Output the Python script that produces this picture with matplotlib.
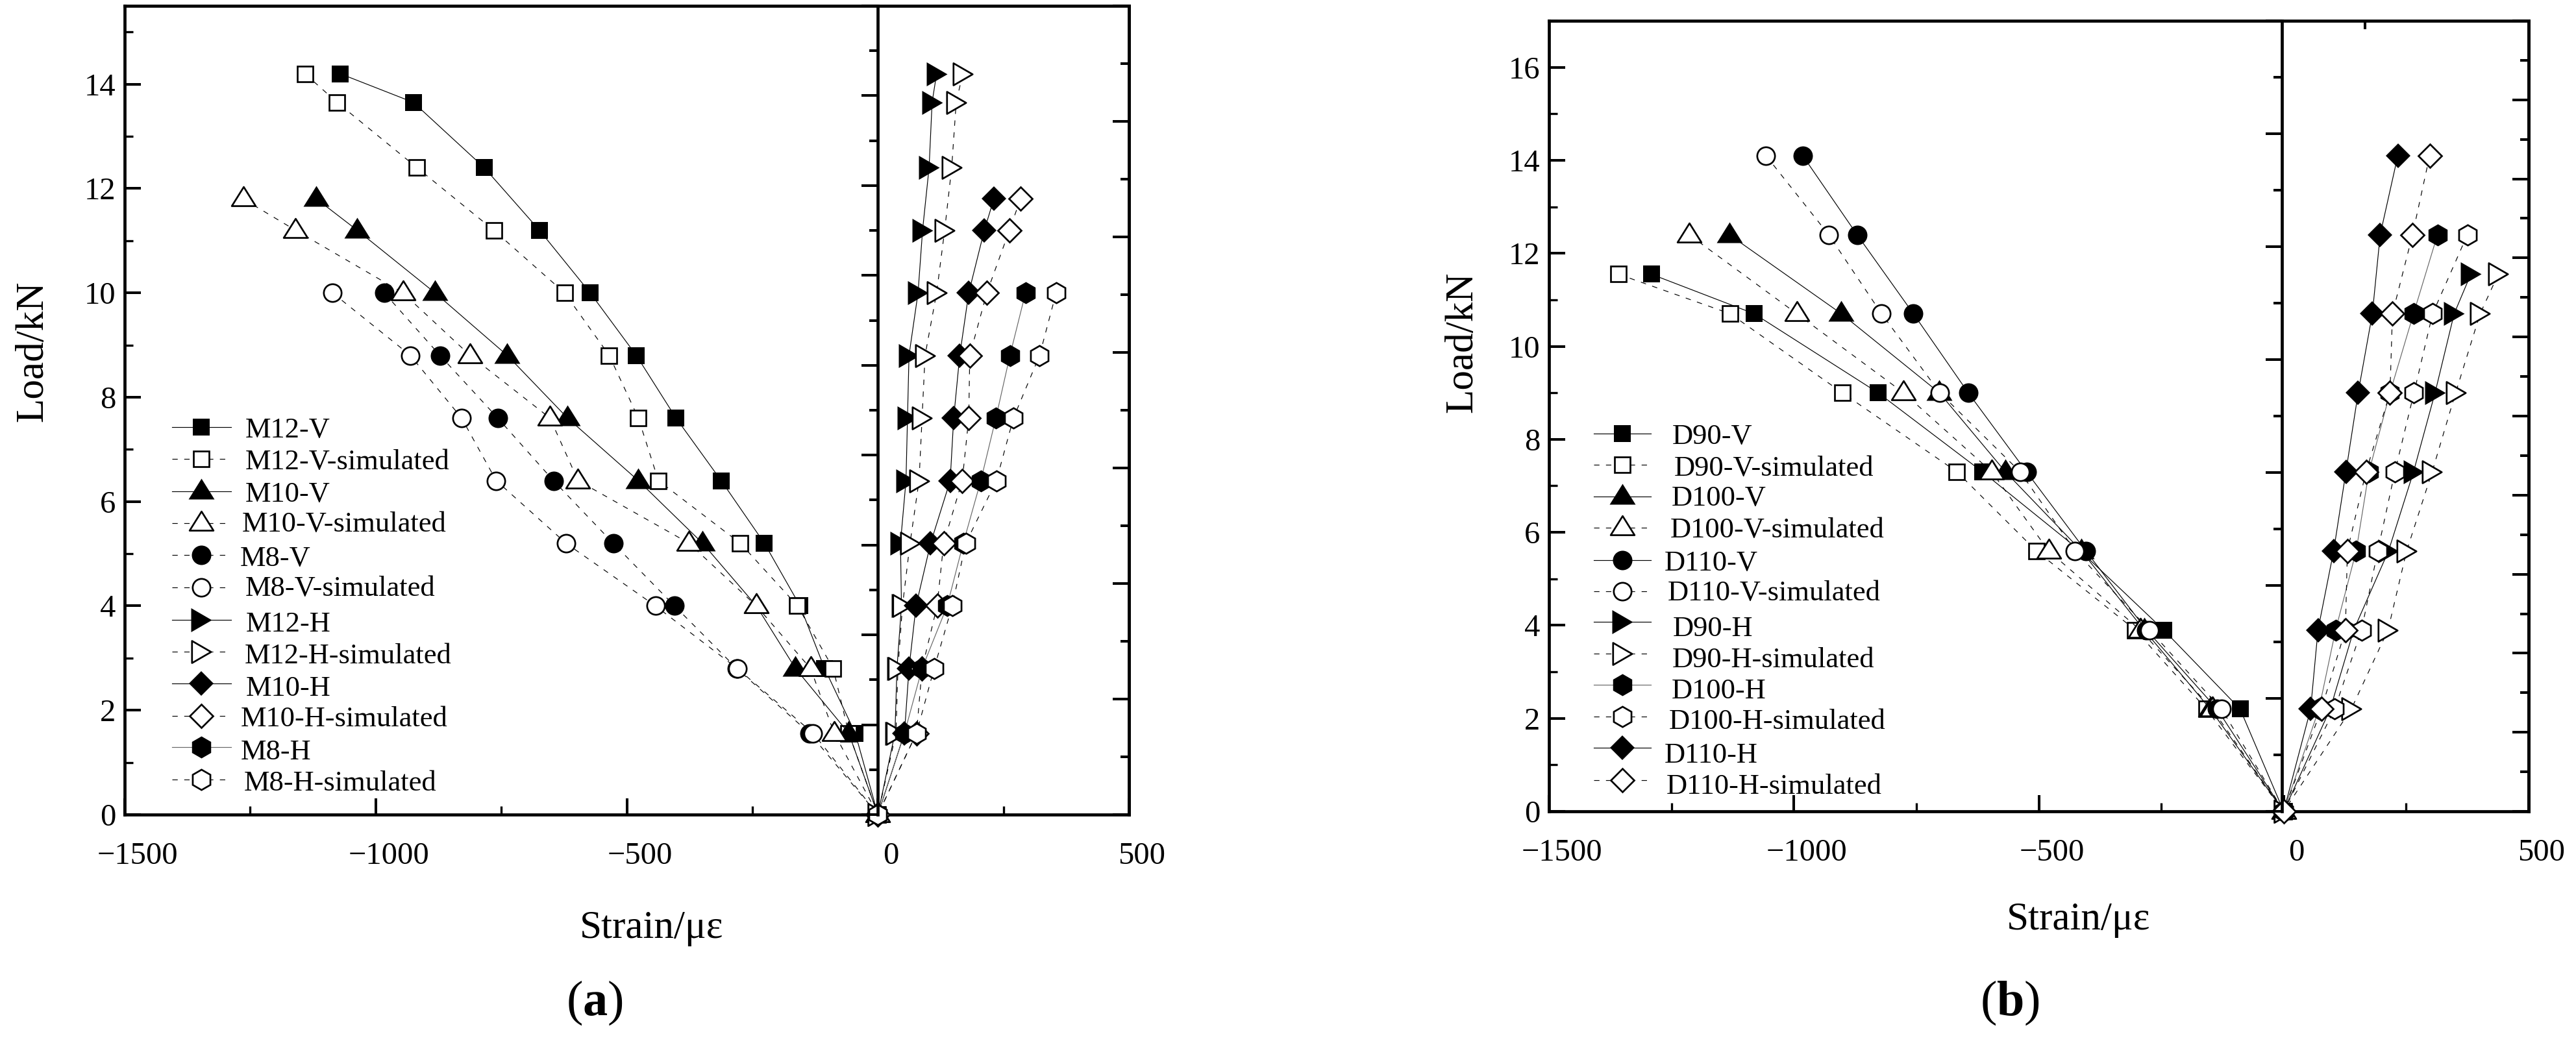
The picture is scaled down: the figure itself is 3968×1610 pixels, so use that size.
import matplotlib
matplotlib.use("Agg")
import matplotlib.pyplot as plt
from matplotlib.lines import Line2D
from matplotlib.path import Path
from matplotlib.ticker import MultipleLocator, NullFormatter
from matplotlib.transforms import ScaledTranslation

plt.rcParams['font.family'] = ['Liberation Serif', 'DejaVu Serif']
plt.rcParams['mathtext.fontset'] = 'custom'
plt.rcParams['mathtext.rm'] = 'Liberation Serif'
plt.rcParams['mathtext.bf'] = 'Liberation Serif:bold'

# ---------------- data: panel (a) ----------------
load_m12 = [14.2, 13.65, 12.4, 11.2, 10, 8.8, 7.6, 6.4, 5.2, 4, 2.8, 1.56, 0]
load_m10 = [11.8, 11.2, 10, 8.8, 7.6, 6.4, 5.2, 4, 2.8, 1.56, 0]
load_m8 = [10, 8.8, 7.6, 6.4, 5.2, 4, 2.8, 1.56, 0]

m12_v = [-1071, -925, -784, -674, -573, -481, -402, -312, -226, -155, -106, -45, 0]
m12_v_sim = [-1141, -1077, -918, -765, -624, -535, -477, -437, -274, -160, -89, -58, 0]
m10_v = [-1118, -1037, -882, -738, -618, -477, -349, -242, -164, -58, 0]
m10_v_sim = [-1264, -1160, -946, -812, -653, -597, -376, -242, -134, -87, 0]
m8_v = [-983, -872, -757, -646, -527, -405, -281, -136, 0]
m8_v_sim = [-1086, -931, -829, -760, -621, -443, -280, -129, 0]
m12_h = [117, 108, 102, 89, 80, 62, 59, 56, 45, 47, 38, 34, 0]
m12_h_sim = [169, 156, 147, 133, 117, 94, 88, 82, 64, 49, 40, 36, 0]
m10_h = [231, 212, 181, 163, 151, 144, 105, 76, 62, 53, 0]
m10_h_sim = [284, 262, 217, 183, 181, 168, 131, 118, 88, 77, 0]
m8_h = [294, 263, 235, 205, 170, 138, 88, 53, 0]
m8_h_sim = [355, 322, 270, 236, 175, 148, 112, 77, 0]

labels_a = ['M12-V', 'M12-V-simulated', 'M10-V', 'M10-V-simulated', 'M8-V', 'M8-V-simulated',
            'M12-H', 'M12-H-simulated', 'M10-H', 'M10-H-simulated', 'M8-H', 'M8-H-simulated']
strain_a = [m12_v, m12_v_sim, m10_v, m10_v_sim, m8_v, m8_v_sim,
            m12_h, m12_h_sim, m10_h, m10_h_sim, m8_h, m8_h_sim]
load_a = [load_m12, load_m12, load_m10, load_m10, load_m8, load_m8,
          load_m12, load_m12, load_m10, load_m10, load_m8, load_m8]

# ---------------- data: panel (b) ----------------
load_d90 = [11.55, 10.7, 9, 7.3, 5.6, 3.9, 2.2, 0]
load_d100 = [12.4, 10.7, 9, 7.3, 5.6, 3.9, 2.2, 0]
load_d110 = [14.1, 12.4, 10.7, 9, 7.3, 5.6, 3.9, 2.2, 0]

d90_v = [-1291, -1081, -828, -615, -415, -245, -89, 0]
d90_v_sim = [-1358, -1130, -901, -667, -505, -303, -158, 0]
d100_v = [-1132, -903, -703, -568, -413, -285, -150, 0]
d100_v_sim = [-1214, -994, -776, -596, -480, -293, -146, 0]
d110_v = [-982, -871, -756, -644, -525, -404, -280, -136, 0]
d110_v_sim = [-1057, -929, -821, -702, -538, -426, -274, -127, 0]
d90_h = [382, 348, 309, 265, 214, 143, 95, 0]
d90_h_sim = [438, 401, 351, 303, 251, 213, 138, 0]
d100_h = [314, 265, 217, 174, 148, 106, 72, 0]
d100_h_sim = [375, 304, 266, 227, 192, 159, 104, 0]
d110_h = [233, 197, 181, 152, 127, 102, 70, 55, 0]
d110_h_sim = [298, 263, 222, 217, 168, 130, 126, 77, 0]

labels_b = ['D90-V', 'D90-V-simulated', 'D100-V', 'D100-V-simulated', 'D110-V', 'D110-V-simulated',
            'D90-H', 'D90-H-simulated', 'D100-H', 'D100-H-simulated', 'D110-H', 'D110-H-simulated']
strain_b = [d90_v, d90_v_sim, d100_v, d100_v_sim, d110_v, d110_v_sim,
            d90_h, d90_h_sim, d100_h, d100_h_sim, d110_h, d110_h_sim]
load_b = [load_d90, load_d90, load_d100, load_d100, load_d110, load_d110,
          load_d90, load_d90, load_d100, load_d100, load_d110, load_d110]

x_ticks = [-1500, -1000, -500, 0, 500]
x_ticklabels = ['\u22121500', '\u22121000', '\u2212500', '0', '500']

# ---------------- layout and style ----------------
W, H = 3968, 1610
PX = 0.72  # points per pixel at dpi 100

UP = Path([(-20, -12), (20, -12), (0, 20), (-20, -12)], closed=True)
RIGHT = Path([(-16, -18.5), (16, 0), (-16, 18.5), (-16, -18.5)], closed=True)


def marker_style(marker, hollow):
    size_px = {'s': 27, '^': 40, 'o': 30, '>': 37, 'D': 27.5, 'h': 34}[marker]
    shape = {'^': UP, '>': RIGHT}.get(marker, marker)
    edge_px = 2.7
    if hollow:
        if marker in '^>':
            return dict(marker=shape, ms=size_px * PX * 0.92, mfc='white',
                        mec='black', mew=edge_px * PX, mew_join=None)
        return dict(marker=shape, ms=(size_px - edge_px) * PX, mfc='white',
                    mec='black', mew=edge_px * PX)
    return dict(marker=shape, ms=size_px * PX, mfc='black', mec='black', mew=0)


def clean(style):
    style = dict(style)
    style.pop('mew_join', None)
    return style


DASH = (7.0, 8.5)
LW = 0.85


def line_style(dashed, gray):
    st = dict(color='#666666' if gray else 'black', lw=LW, dash_capstyle='butt')
    if dashed:
        st.update(ls='--', dashes=DASH)
    return st


def px_axes(l, t, r, b):
    return fig.add_axes([l / W, 1 - b / H, (r - l) / W, (b - t) / H])


def panel(box, ylim, center_top, right_top, center_x, labels, strains, loads, markers,
          dashed_solid, gray, leg_x, leg_hy, leg_tx, leg_ty, leg_line, xlabel_xy, ylabel_xy,
          letter, letter_xy, top_tick=None):
    ax = px_axes(*box)
    for i, (lab, xs, ys) in enumerate(zip(labels, strains, loads)):
        hollow = i % 2 == 1
        dashed = hollow or i in dashed_solid
        ax.plot(xs, ys, clip_on=False, **line_style(dashed, i in gray),
                **clean(marker_style(markers[i], hollow)), zorder=3, label=lab)
    ax.set_xlim(-1500, 500)
    ax.set_ylim(0, ylim)
    ax.set_xticks(x_ticks)
    ax.set_xticklabels(x_ticklabels)
    ax.xaxis.set_minor_locator(MultipleLocator(250))
    ax.yaxis.set_major_locator(MultipleLocator(2))
    ax.yaxis.set_minor_locator(MultipleLocator(1))
    ax.tick_params(which='major', direction='in', length=18, width=2.9, labelsize=35)
    ax.tick_params(which='minor', direction='in', length=9.5, width=2.4)
    ax.tick_params(axis='x', which='major', pad=30)
    ax.tick_params(axis='y', which='major', pad=10)
    shift = ScaledTranslation(20 / 100, 0, fig.dpi_scale_trans)
    for t in ax.get_xticklabels():
        t.set_transform(t.get_transform() + shift)
    for s in ax.spines.values():
        s.set_linewidth(3.4)

    for top, pos in ((center_top, center_x), (right_top, None)):
        tw = ax.twinx()
        tw.set_ylim(0, top)
        tw.yaxis.set_major_locator(MultipleLocator(1))
        tw.yaxis.set_minor_locator(MultipleLocator(0.5))
        tw.yaxis.set_major_formatter(NullFormatter())
        tw.tick_params(which='major', direction='in', length=18, width=2.9)
        tw.tick_params(which='minor', direction='in', length=9.5, width=2.9)
        for s in tw.spines.values():
            s.set_visible(False)
        tw.spines['right'].set_visible(True)
        tw.spines['right'].set_linewidth(3.4)
        if pos is not None:
            tw.spines['right'].set_position(('data', pos))

    if top_tick is not None:
        sec = ax.secondary_xaxis('top')
        sec.set_xticks([top_tick])
        sec.set_xticklabels([''])
        sec.tick_params(direction='in', length=9.5, width=2.9)
        sec.spines['top'].set_visible(False)

    # hand-placed legend: every text is centred on its own x, as in the reference
    for i, lab in enumerate(labels):
        hollow = i % 2 == 1
        dashed = hollow or i in dashed_solid
        y = 1 - leg_hy[i] / H
        fig.add_artist(Line2D([leg_line[0] / W, leg_line[1] / W], [y, y],
                              **line_style(dashed, i in gray)))
        fig.add_artist(Line2D([leg_x / W], [y], ls='none', **clean(marker_style(markers[i], hollow))))
        fig.text(leg_tx[i] / W, 1 - leg_ty[i] / H, lab, ha='center', va='center', fontsize=32)

    fig.text(xlabel_xy[0] / W, 1 - xlabel_xy[1] / H, 'Strain/\u03bc\u03b5', ha='center', va='center', fontsize=44)
    fig.text(ylabel_xy[0] / W, 1 - ylabel_xy[1] / H, 'Load/kN', rotation=90, ha='center', va='center', fontsize=44)
    fig.text(letter_xy[0] / W, 1 - letter_xy[1] / H, r'$\mathrm{(}\mathbf{%s}\mathrm{)}$' % letter,
             ha='center', va='center', fontsize=55)
    return ax


fig = plt.figure(figsize=(W / 100, H / 100), dpi=100, facecolor='white')

markers_a = ['s', 's', '^', '^', 'o', 'o', '>', '>', 'D', 'D', 'h', 'h']
markers_b = ['s', 's', '^', '^', 'o', 'o', '>', '>', 'h', 'h', 'D', 'D']

panel((192, 9, 1739, 1255), 15.5, 9, 7, 0, labels_a, strain_a, load_a, markers_a,
      dashed_solid={4}, gray={10},
      leg_x=310,
      leg_hy=[658, 707, 757, 806, 855, 905, 955, 1004, 1053, 1103, 1151, 1201],
      leg_tx=[443, 535, 443, 530, 424, 524, 444, 536, 444, 530, 425, 524],
      leg_ty=[663, 712, 762, 808, 861, 907, 962, 1011, 1061, 1108, 1159, 1207],
      leg_line=(265, 356), xlabel_xy=(1004, 1430), ylabel_xy=(50, 541),
      letter='a', letter_xy=(916, 1545))

panel((2386, 32, 3895, 1250), 17, 7, 10, -4, labels_b, strain_b, load_b, markers_b,
      dashed_solid=set(), gray={8},
      leg_x=2499,
      leg_hy=[668, 716, 765, 813, 863, 911, 958, 1007, 1055, 1104, 1152, 1202],
      leg_tx=[2638, 2733, 2648, 2738, 2636, 2733, 2638, 2732, 2648, 2738, 2636, 2733],
      leg_ty=[673, 722, 768, 817, 868, 914, 969, 1017, 1065, 1112, 1164, 1212],
      leg_line=(2455, 2543), xlabel_xy=(3202, 1417), ylabel_xy=(2252, 527),
      letter='b', letter_xy=(3096, 1545), top_tick=166)

fig.savefig('out.png', dpi=100)
